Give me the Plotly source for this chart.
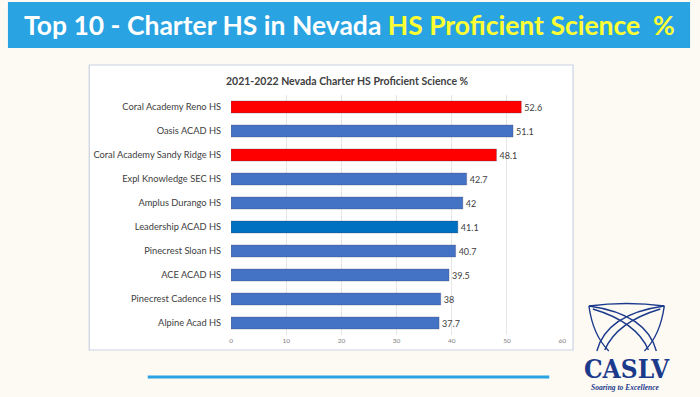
import plotly.graph_objects as go

schools = ["Coral Academy Reno HS", "Oasis ACAD HS", "Coral Academy Sandy Ridge HS",
           "Expl Knowledge SEC HS", "Amplus Durango HS", "Leadership ACAD HS",
           "Pinecrest Sloan HS", "ACE ACAD HS", "Pinecrest Cadence HS", "Alpine Acad HS"]
values = [52.6, 51.1, 48.1, 42.7, 42, 41.1, 40.7, 39.5, 38, 37.7]
bar_colors = ["#FF0000", "#4472C4", "#FF0000", "#4472C4", "#4472C4",
              "#0070C0", "#4472C4", "#4472C4", "#4472C4", "#4472C4"]
x_ticks = [0, 10, 20, 30, 40, 50, 60]

W, H = 700, 397
def px(x): return x / W
def py(y): return 1 - y / H

fig = go.Figure()
fig.add_trace(go.Bar(
    y=schools, x=values, orientation="h",
    marker=dict(color=bar_colors, line=dict(width=0.8, color="rgba(60,60,90,0.35)")),
    width=0.5,
    text=[f"{v:g}" for v in values], textposition="outside",
    textfont=dict(family="Lato, Open Sans, sans-serif", size=9, color="#404040"),
    cliponaxis=False,
))

shapes = [
    dict(type="rect", xref="paper", yref="paper", x0=px(6), x1=px(694), y0=py(48), y1=py(2),
         fillcolor="#29A3E2", line=dict(width=0), layer="below"),
    dict(type="rect", xref="paper", yref="paper", x0=px(88), x1=px(576), y0=py(350), y1=py(65),
         fillcolor="#FFFFFF", line=dict(color="#C9D3E3", width=1.2), layer="below"),
    dict(type="line", xref="paper", yref="paper", x0=px(147), x1=px(552), y0=py(377), y1=py(377),
         line=dict(color="#29A3E2", width=3)),
]
logo_col = "#1B3A8C"
def qpath(a, c, b):
    return "M %f,%f Q %f,%f %f,%f" % (px(a[0]), py(a[1]), px(c[0]), py(c[1]), px(b[0]), py(b[1]))
logo_curves = [
    ((592, 306), (630, 301), (668, 306)),
    ((592, 306), (650, 314), (660, 351)),
    ((668, 306), (610, 314), (600, 351)),
    ((592, 306), (596, 335), (612, 351)),
    ((668, 306), (664, 335), (648, 351)),
    ((596, 309), (640, 322), (652, 350)),
    ((664, 309), (620, 322), (608, 350)),
]
for a, c, b in logo_curves:
    shapes.append(dict(type="path", xref="paper", yref="paper", path=qpath(a, c, b),
                       line=dict(color=logo_col, width=1.4)))

annotations = [
    dict(xref="paper", yref="paper", x=0.5, y=py(25), xanchor="center", yanchor="middle",
         showarrow=False,
         text="Top 10 - Charter HS in Nevada <span style='color:#FFFF33'>HS Proficient Science  %</span>",
         font=dict(family="Lato, Open Sans, sans-serif", size=26.5, color="#FFFFFF", weight="bold")),
    dict(xref="paper", yref="paper", x=px(348), y=py(81), xanchor="center", yanchor="middle",
         showarrow=False, text="<b>2021-2022 Nevada Charter HS Proficient Science %</b>",
         font=dict(family="Lato, Open Sans, sans-serif", size=10.5, color="#404040")),
    dict(xref="paper", yref="paper", x=px(630), y=py(369), xanchor="center", yanchor="middle",
         showarrow=False, text="<b>CASLV</b>",
         font=dict(family="DejaVu Serif Condensed, DejaVu Serif, serif", size=26, color=logo_col)),
    dict(xref="paper", yref="paper", x=px(629), y=py(387), xanchor="center", yanchor="middle",
         showarrow=False, text="<i><b>Soaring to Excellence</b></i>",
         font=dict(family="Liberation Serif, serif", size=7.5, color=logo_col)),
]

fig.update_layout(
    width=W, height=H,
    margin=dict(l=0, r=0, t=0, b=0),
    paper_bgcolor="#FDF9F3", plot_bgcolor="rgba(0,0,0,0)",
    showlegend=False,
    shapes=shapes, annotations=annotations,
    xaxis=dict(domain=[px(231), px(565)], range=[0, 60], tickvals=x_ticks,
               showgrid=True, gridcolor="#E6E6E6", gridwidth=1, zeroline=False,
               showline=False, ticks="",
               tickfont=dict(family="Lato, sans-serif", size=6.5, color="#808080")),
    yaxis=dict(domain=[py(335), py(95)], autorange="reversed",
               showgrid=False, showline=False, ticks="outside", ticklen=7,
               tickcolor="rgba(0,0,0,0)",
               tickfont=dict(family="Lato, Open Sans, sans-serif", size=9.3, color="#404040")),
)

fig.write_html("out.html", config={"displayModeBar": False},
               post_script="document.body.style.margin='0';document.body.style.overflow='hidden';document.body.style.background='#FDF9F3';")
